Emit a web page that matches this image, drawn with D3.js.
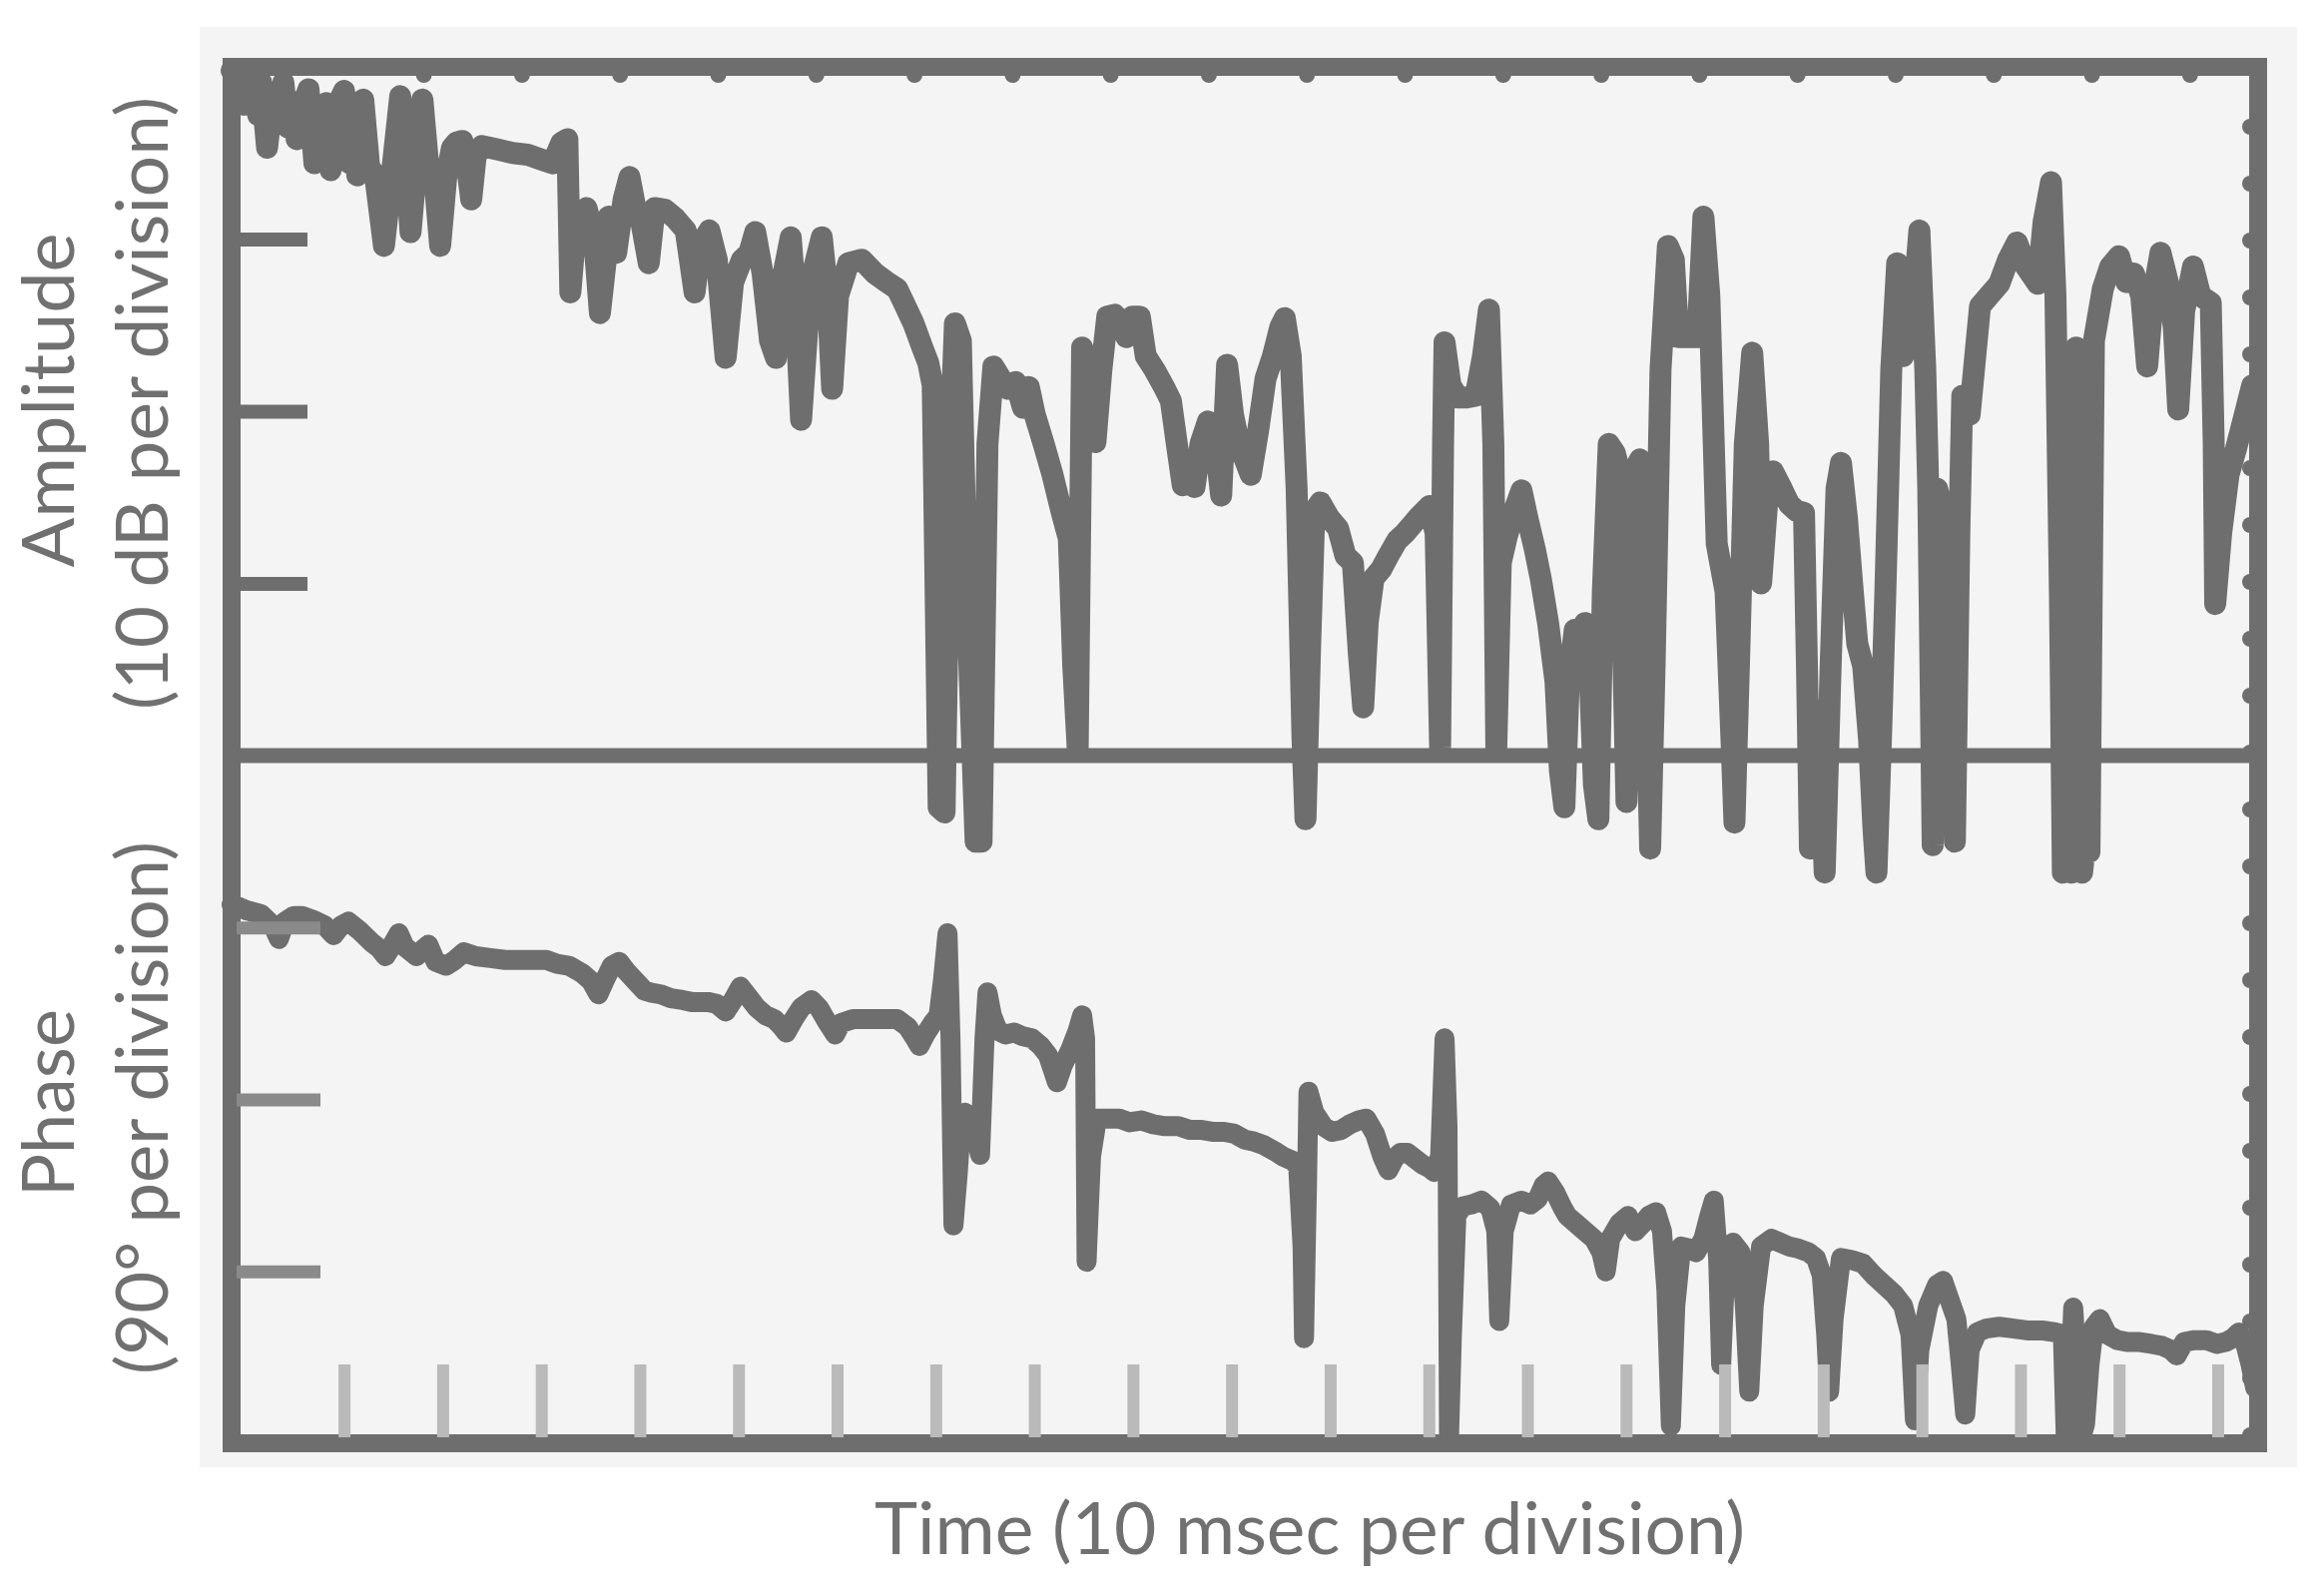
<!DOCTYPE html>
<html><head><meta charset="utf-8">
<script src="https://cdn.jsdelivr.net/npm/d3@7"></script>
<style>html,body{margin:0;padding:0;background:#fff;} svg{display:block;}</style>
</head><body>
<svg id="chart" width="2328" height="1593"></svg>
<script>
// Amplitude trace: [time (msec), level (dB re top of frame)]
const amplitude = [
[0,-0.2],[0.75,-0.6],[1.2,-2.2],[1.5,-0.3],[2.25,-1.3],[2.7,-2.8],[3,-0.9],[3.6,-4.7],[4.2,-1.5],[4.7,-3.0],[5.25,-0.9],[5.7,-3.5],[6.15,-2.0],[6.6,-4.2],[7.2,-2.3],[7.8,-1.3],[8.4,-5.6],[9,-3.0],[9.6,-2.1],[10.05,-6.0],[10.35,-4.2],[10.65,-2.3],[11.4,-1.4],[12,-5.6],[12.4,-4.0],[12.75,-6.3],[13.35,-1.9],[13.95,-5.8],[14.55,-6.3],[15.45,-10.4],[16.2,-6.5],[17.1,-1.7],[17.7,-6.0],[18.15,-9.6],[18.75,-5.6],[19.35,-1.9],[19.95,-5.8],[20.55,-6.3],[21.15,-10.4],[21.75,-6.5],[22.35,-4.7],[22.8,-4.4],[23.4,-4.3],[23.85,-5.6],[24.3,-7.7],[24.75,-5.2],[25.35,-4.6],[27,-4.8],[28.5,-5.0],[30,-5.1],[31.5,-5.4],[32.55,-5.6],[33.45,-4.4],[34.05,-4.2],[34.35,-13.1],[34.95,-9.0],[36,-8.2],[36.75,-9.9],[37.35,-14.3],[37.95,-11.2],[38.25,-8.7],[39,-10.8],[39.75,-7.7],[40.35,-6.4],[40.95,-8.2],[41.55,-9.0],[42.3,-11.4],[42.9,-8.2],[43.95,-8.3],[45,-8.8],[46.05,-9.5],[46.95,-13.1],[47.55,-10.3],[48.45,-9.5],[49.2,-11.2],[50.1,-16.9],[50.85,-12.5],[51.75,-11.2],[52.5,-10.8],[53.1,-9.6],[53.85,-12.0],[54.6,-15.9],[55.2,-16.9],[55.8,-12.5],[56.7,-9.9],[57.15,-13.3],[57.75,-20.5],[58.5,-14.2],[59.1,-11.6],[59.85,-9.9],[60.45,-13.3],[60.9,-18.7],[61.5,-13.3],[62.55,-11.4],[63.9,-11.2],[65.25,-12.0],[66.45,-12.5],[67.5,-12.9],[68.25,-13.8],[69.15,-14.9],[70.05,-16.3],[70.65,-17.2],[71.1,-18.5],[71.7,-43.0],[72.3,-43.3],[72.9,-21.9],[73.35,-14.9],[73.95,-15.9],[74.55,-30.5],[75.45,-45.0],[76.05,-45.0],[76.65,-21.9],[77.25,-17.4],[78,-18.1],[78.75,-18.7],[79.5,-18.3],[80.25,-19.8],[80.85,-18.6],[81.45,-20.2],[82.35,-21.9],[83.25,-23.7],[84.15,-25.8],[84.9,-27.4],[85.35,-34.8],[85.8,-39.6],[86.25,-16.3],[86.85,-17.6],[87.6,-21.8],[88.2,-17.6],[88.8,-14.5],[89.55,-14.4],[90.3,-14.9],[90.75,-15.7],[91.35,-14.5],[92.1,-14.5],[92.7,-16.8],[93.6,-17.6],[94.65,-18.7],[95.25,-19.4],[95.85,-21.9],[96.45,-24.3],[97.05,-23.7],[97.65,-24.4],[98.25,-21.9],[99,-20.6],[99.75,-21.9],[100.35,-24.9],[100.95,-17.3],[101.55,-20.2],[102.15,-21.9],[102.75,-22.8],[103.35,-23.7],[104.1,-21.1],[104.85,-18.1],[105.6,-16.8],[106.35,-15.1],[106.8,-14.6],[107.4,-16.8],[108,-24.5],[108.6,-39.1],[108.9,-43.7],[109.35,-34.0],[109.8,-25.8],[110.4,-25.3],[111.3,-26.2],[112.2,-26.8],[112.95,-28.4],[113.7,-28.8],[114.3,-34.0],[114.75,-37.2],[115.2,-32.3],[115.8,-29.7],[116.55,-29.2],[117.3,-28.4],[118.2,-27.5],[118.95,-27.1],[119.7,-26.6],[120.45,-26.1],[121.5,-25.5],[122.1,-27.1],[122.55,-39.5],[122.85,-21.9],[123,-16.0],[123.6,-18.5],[124.35,-19.2],[125.25,-19.2],[126.15,-19.1],[126.9,-16.8],[127.5,-14.1],[127.95,-21.9],[128.25,-39.5],[128.7,-28.8],[129.3,-27.3],[130.05,-25.8],[130.8,-24.6],[131.4,-26.2],[132.15,-28.0],[132.75,-29.7],[133.5,-32.3],[134.25,-35.7],[134.7,-40.9],[135.15,-43.0],[135.6,-35.7],[136.2,-32.7],[136.8,-34.0],[137.25,-32.3],[137.7,-34.8],[138.15,-41.7],[138.6,-43.7],[139.05,-30.5],[139.65,-21.9],[140.25,-22.4],[140.85,-23.7],[141.15,-34.8],[141.45,-42.7],[141.9,-32.3],[142.5,-23.2],[142.8,-22.8],[143.25,-30.5],[143.85,-45.4],[144.3,-34.8],[144.9,-17.6],[145.65,-10.4],[146.25,-11.2],[146.7,-15.7],[147.75,-15.7],[148.65,-15.7],[149.25,-8.7],[149.85,-13.3],[150.3,-21.9],[150.6,-27.7],[151.5,-30.5],[152.1,-39.1],[152.4,-43.9],[152.85,-34.8],[153.45,-21.9],[154.2,-16.6],[154.8,-21.9],[155.1,-30.0],[155.7,-25.4],[156.3,-23.5],[157.2,-24.5],[157.95,-25.4],[158.7,-25.8],[159.45,-25.9],[159.75,-34.8],[160.05,-45.4],[160.5,-39.1],[160.95,-37.4],[161.55,-46.8],[162.15,-34.8],[162.75,-24.5],[163.2,-23.0],[163.8,-26.2],[164.4,-30.5],[164.85,-33.5],[165.45,-34.8],[166.05,-39.1],[166.5,-44.3],[166.8,-46.8],[167.25,-39.1],[167.7,-30.5],[168.3,-17.6],[168.9,-11.4],[169.5,-16.8],[170.25,-15.9],[171.15,-9.5],[171.75,-17.6],[172.05,-24.5],[172.5,-45.2],[172.95,-24.5],[173.7,-26.2],[174.15,-25.4],[174.75,-45.0],[175.2,-27.1],[175.5,-19.1],[176.25,-20.2],[177.3,-13.9],[178.2,-13.3],[179.25,-12.6],[180.15,-11.2],[181.05,-10.2],[181.95,-11.6],[183.15,-12.6],[183.75,-9.0],[184.5,-6.7],[184.95,-13.3],[185.4,-30.5],[185.7,-46.8],[186.15,-16.8],[186.6,-46.8],[187.05,-16.3],[187.65,-46.8],[188.1,-44.3],[188.4,-45.6],[188.85,-15.9],[189.75,-12.9],[190.5,-11.6],[191.4,-11.0],[192.15,-12.5],[192.9,-12.0],[193.65,-13.3],[194.25,-17.4],[194.85,-13.3],[195.6,-10.8],[196.35,-12.5],[196.95,-15.1],[197.4,-19.9],[198,-14.2],[198.9,-11.6],[199.65,-13.3],[200.7,-13.7],[201,-21.9],[201.15,-31.2],[201.75,-27.1],[202.5,-23.7],[203.25,-22.2],[204.15,-20.2],[204.9,-18.5]
];

// Phase trace: [time (msec), phase (degrees)]
const phase = [
[0,-78],[0.6,-79],[1.5,-81],[3,-83],[4.2,-89],[4.8,-96],[5.4,-87],[6.3,-84],[7.2,-84],[8.25,-86],[9.45,-89],[10.35,-94],[11.1,-89],[11.85,-87],[13.05,-92],[14.25,-98],[15,-101],[15.6,-105],[16.2,-100],[16.95,-93],[17.55,-100],[18.75,-105],[19.5,-101],[19.95,-99],[20.7,-108],[21.75,-110],[22.65,-107],[23.55,-103],[24.75,-105],[26.25,-106],[27.75,-107],[29.25,-107],[30.75,-107],[31.95,-107],[33,-109],[34.2,-110],[35.55,-114],[36.45,-118],[37.2,-125],[37.8,-118],[38.55,-110],[39.3,-108],[40.05,-113],[40.95,-118],[41.85,-123],[42.45,-124],[43.5,-125],[44.55,-127],[45.75,-128],[46.65,-129],[47.4,-129],[48.3,-129],[49.2,-130],[50.1,-134],[50.85,-128],[51.6,-121],[52.35,-126],[53.25,-132],[54.15,-136],[55.05,-138],[55.8,-142],[56.25,-145],[57,-138],[57.75,-132],[58.8,-128],[59.55,-132],[60.45,-140],[61.2,-146],[61.8,-140],[63,-138],[64.5,-138],[66,-138],[67.5,-138],[68.55,-142],[69.3,-148],[69.75,-152],[70.35,-146],[71.1,-140],[71.7,-136],[72.15,-117],[72.6,-93],[72.9,-148],[73.2,-246],[73.65,-218],[73.95,-194],[74.4,-187],[75,-190],[75.45,-198],[75.9,-209],[76.35,-148],[76.65,-124],[77.1,-136],[77.7,-144],[78.45,-146],[79.35,-145],[80.25,-147],[81.15,-148],[82.05,-152],[82.8,-157],[83.7,-171],[84.3,-162],[85.05,-154],[85.8,-144],[86.25,-136],[86.55,-148],[86.7,-265],[87.15,-210],[87.75,-190],[88.95,-190],[90,-190],[91.05,-192],[92.25,-191],[93.45,-193],[94.65,-194],[96,-194],[97.2,-196],[98.4,-196],[99.6,-197],[100.65,-197],[101.7,-198],[102.75,-201],[103.65,-202],[104.7,-204],[105.75,-207],[106.65,-210],[107.55,-212],[108.15,-215],[108.6,-257],[108.75,-305],[109.05,-225],[109.2,-176],[109.8,-187],[110.7,-194],[111.6,-197],[112.5,-196],[113.4,-193],[114.3,-191],[115.05,-190],[115.95,-198],[116.7,-210],[117.3,-217],[117.9,-211],[118.5,-208],[119.25,-208],[120,-211],[120.75,-214],[121.5,-216],[121.95,-218],[122.55,-210],[123,-148],[123.3,-194],[123.45,-358],[123.75,-303],[124.2,-241],[124.8,-236],[125.7,-235],[126.75,-233],[127.65,-237],[128.25,-249],[128.55,-296],[129,-249],[129.75,-235],[130.8,-233],[131.7,-235],[132.45,-232],[133.05,-225],[133.5,-223],[134.25,-229],[135,-237],[135.45,-241],[136.35,-245],[137.25,-249],[138.15,-253],[138.9,-260],[139.35,-270],[139.8,-253],[140.7,-245],[141.6,-241],[142.35,-249],[143.1,-245],[143.7,-241],[144.45,-239],[145.05,-249],[145.5,-280],[145.95,-351],[146.4,-288],[147,-257],[147.75,-258],[148.5,-260],[149.25,-253],[149.85,-241],[150.3,-233],[150.75,-264],[151.05,-319],[151.5,-264],[152.25,-255],[153,-260],[153.45,-288],[153.9,-333],[154.35,-288],[155.1,-257],[156.15,-253],[157.05,-255],[157.95,-257],[158.85,-258],[159.9,-260],[160.65,-263],[161.25,-272],[161.7,-303],[162,-333],[162.45,-295],[163.2,-263],[164.25,-264],[165.45,-266],[166.5,-272],[167.55,-277],[168.6,-282],[169.5,-288],[170.25,-303],[170.7,-348],[171.15,-311],[172.05,-288],[172.95,-277],[173.55,-275],[174.15,-284],[174.9,-295],[175.35,-319],[175.8,-345],[176.25,-311],[177,-302],[177.9,-300],[179.25,-299],[180.75,-300],[182.25,-301],[183.75,-301],[184.95,-302],[185.7,-303],[186,-358],[186.45,-327],[186.75,-289],[187.2,-327],[187.5,-358],[187.95,-350],[188.4,-319],[188.85,-299],[189.45,-295],[190.2,-303],[191.25,-306],[192.3,-307],[193.5,-307],[194.7,-308],[195.75,-309],[196.65,-311],[197.25,-314],[198,-307],[199.05,-306],[200.25,-306],[201.3,-308],[202.2,-307],[202.95,-305],[203.55,-302],[204.15,-307],[204.75,-319],[205.2,-331]
];

const timeTicks = [11.4,21.4,31.4,41.4,51.4,61.4,71.4,81.4,91.4,101.4,111.4,121.4,131.4,141.4,151.4,161.4,171.4,181.4,191.4,201.4];
const ampTicks = [-10,-20,-30];
const phaseTicks = [-90,-180,-270];
const xLabel = "Time (10 msec per division)";
const ampLabel = ["Amplitude", "(10 dB per division)"];
const phaseLabel = ["Phase", "(90\u00b0 per division)"];

const svg = d3.select('#chart');
const frame = {left:232, right:2262, top:67, mid:757, bottom:1446};
const ink = '#6e6e6e';
const textInk = '#707070';

const x = d3.scaleLinear().domain([0, 205.5]).range([frame.left, frame.right]);
const yAmp = d3.scaleLinear().domain([0, -40]).range([frame.top, frame.mid]);
const yPh = d3.scaleLinear().domain([0, -360]).range([frame.mid, frame.bottom]);

// scanned paper background
svg.append('rect').attr('x', 200).attr('y', 27).attr('width', 2101).attr('height', 1443).attr('fill', '#f4f4f4');

// traces
const lineA = d3.line().x(d => x(d[0])).y(d => yAmp(d[1]));
const lineP = d3.line().x(d => x(d[0])).y(d => yPh(d[1]));
svg.append('path').datum(amplitude).attr('d', lineA)
  .attr('fill', 'none').attr('stroke', ink).attr('stroke-width', 22)
  .attr('stroke-linejoin', 'round').attr('stroke-linecap', 'round');
svg.append('path').datum(phase).attr('d', lineP)
  .attr('fill', 'none').attr('stroke', ink).attr('stroke-width', 20)
  .attr('stroke-linejoin', 'round').attr('stroke-linecap', 'round');

// frame and divider
svg.append('rect').attr('x', frame.left).attr('y', frame.top)
  .attr('width', frame.right - frame.left).attr('height', frame.bottom - frame.top)
  .attr('fill', 'none').attr('stroke', ink).attr('stroke-width', 18);
svg.append('line').attr('x1', frame.left).attr('x2', frame.right)
  .attr('y1', frame.mid).attr('y2', frame.mid)
  .attr('stroke', ink).attr('stroke-width', 15);

// recorder-paper bumps along top and right edges (decorative)
svg.append('g').selectAll('circle').data(d3.range(19.5, 200, 9.95)).join('circle')
  .attr('cx', d => x(d)).attr('cy', frame.top + 8).attr('r', 8).attr('fill', ink);
svg.append('g').selectAll('circle').data(d3.range(127, 1440, 57)).join('circle')
  .attr('cx', frame.right - 8).attr('cy', d => d).attr('r', 8).attr('fill', ink);

// amplitude ticks
const gA = svg.append('g').attr('transform', `translate(${frame.left},0)`)
  .call(d3.axisRight(yAmp).tickValues(ampTicks).tickSize(76).tickFormat(''));
gA.select('.domain').remove();
gA.selectAll('line').attr('stroke', ink).attr('stroke-width', 14);

// phase ticks
const gP = svg.append('g').attr('transform', `translate(${frame.left + 5},0)`)
  .call(d3.axisRight(yPh).tickValues(phaseTicks).tickSize(84).tickFormat(''));
gP.select('.domain').remove();
gP.selectAll('line').attr('stroke', '#8a8a8a').attr('stroke-width', 13);

// time ticks
const gT = svg.append('g').attr('transform', `translate(0,${frame.bottom - 6})`)
  .call(d3.axisTop(x).tickValues(timeTicks).tickSize(73).tickFormat(''));
gT.select('.domain').remove();
gT.selectAll('line').attr('stroke', '#bababa').attr('stroke-width', 12);

// labels
const font = 'Lato, "Open Sans", sans-serif';
svg.append('text').attr('x', 1312).attr('y', 1557).attr('text-anchor', 'middle')
  .attr('font-family', font).attr('font-size', 72).attr('fill', textInk)
  .attr('textLength', 872).attr('lengthAdjust', 'spacingAndGlyphs').text(xLabel);

function vlabel(txt, bx, cy, len) {
  svg.append('text').attr('transform', `translate(${bx},${cy}) rotate(-90)`)
    .attr('text-anchor', 'middle').attr('font-family', font).attr('font-size', 72)
    .attr('fill', textInk).attr('textLength', len).attr('lengthAdjust', 'spacingAndGlyphs')
    .text(txt);
}
vlabel(ampLabel[0], 74, 401, 335);
vlabel(ampLabel[1], 168, 404, 614);
vlabel(phaseLabel[0], 74, 1105, 188);
vlabel(phaseLabel[1], 168, 1110, 534);
</script>
</body></html>
